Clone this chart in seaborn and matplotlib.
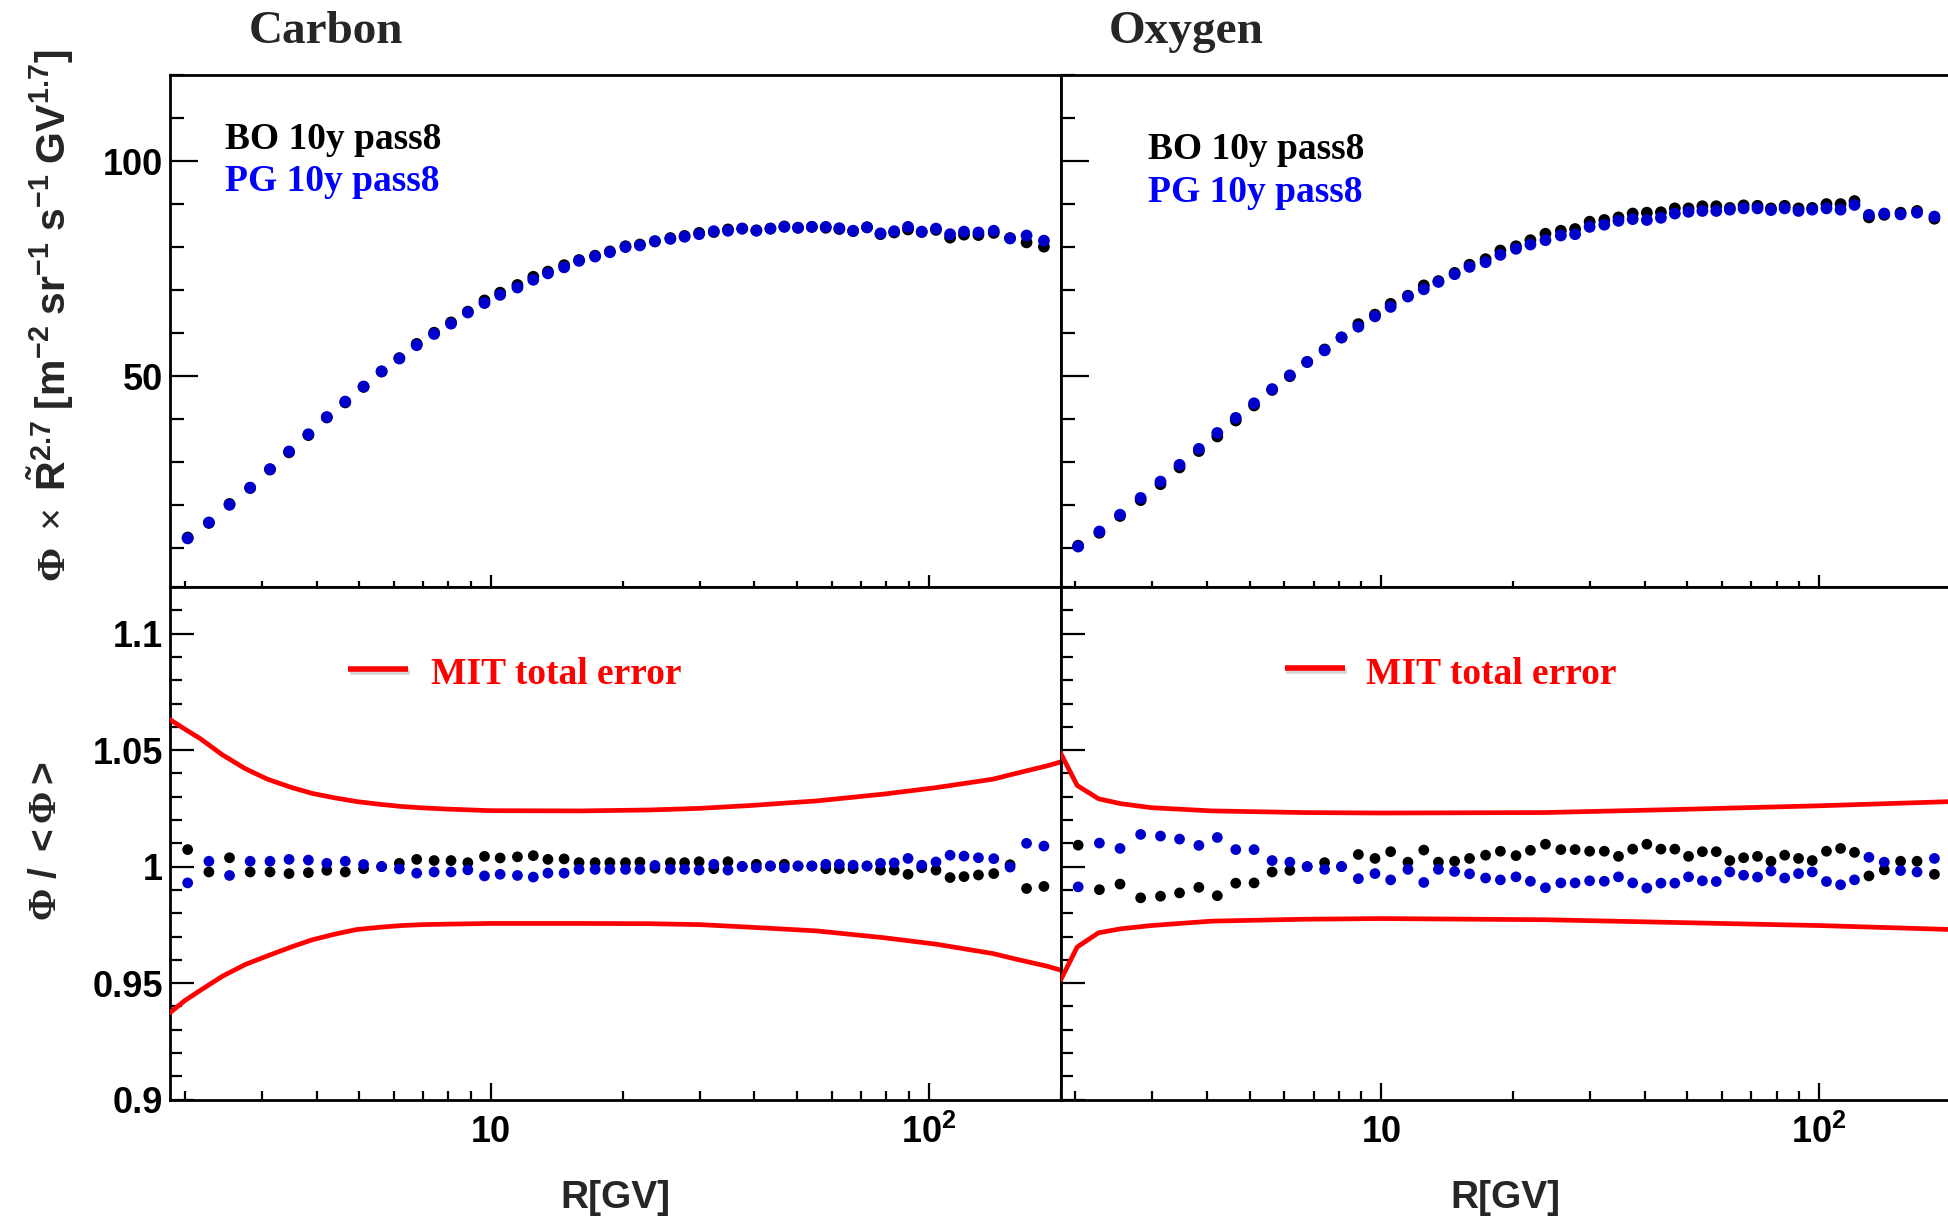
import matplotlib
matplotlib.use('Agg')
import matplotlib.pyplot as plt
import seaborn as sns
import pandas as pd
from matplotlib.ticker import FixedLocator, FixedFormatter, NullFormatter, MultipleLocator, LogLocator

# ---------------- data ----------------
rigidity = [2.03, 2.27, 2.53, 2.82, 3.13, 3.46, 3.83, 4.22, 4.65, 5.12, 5.63, 6.18, 6.77, 7.42,
            8.11, 8.86, 9.67, 10.5, 11.5, 12.5, 13.5, 14.7, 15.9, 17.3, 18.7, 20.3, 21.9, 23.7,
            25.7, 27.7, 29.9, 32.3, 34.8, 37.5, 40.4, 43.5, 46.8, 50.3, 54.1, 58.2, 62.5, 67.2,
            72.3, 77.6, 83.4, 89.7, 96.4, 103.9, 111.9, 120.4, 129.9, 140.8, 153.4, 167.3, 183.3]

carbon_pg = [12.3, 16.0, 20.1, 24.1, 28.4, 32.5, 36.5, 40.5, 44.1, 47.6, 51.1, 54.1, 57.2, 59.8,
             62.2, 64.8, 67.0, 68.9, 70.6, 72.4, 73.9, 75.3, 76.8, 77.8, 78.8, 80.0, 80.4, 81.4,
             81.9, 82.4, 83.0, 83.7, 83.8, 84.3, 83.8, 84.3, 84.7, 84.5, 84.7, 84.7, 84.4, 83.8,
             84.6, 83.2, 83.7, 84.7, 83.6, 84.3, 83.0, 83.6, 83.4, 83.8, 82.0, 82.7, 81.5]
carbon_bo = [12.5, 15.9, 20.3, 24.0, 28.3, 32.3, 36.3, 40.4, 43.9, 47.5, 51.1, 54.2, 57.5, 60.1,
             62.5, 65.0, 67.6, 69.4, 71.2, 73.1, 74.3, 75.8, 77.0, 78.0, 79.0, 80.2, 80.6, 81.3,
             82.1, 82.6, 83.3, 83.5, 84.1, 84.3, 83.9, 84.3, 84.8, 84.5, 84.7, 84.5, 84.2, 83.7,
             84.6, 83.0, 83.4, 84.1, 83.5, 84.0, 82.2, 82.9, 82.8, 83.3, 82.1, 81.1, 80.1]

oxygen_pg = [10.4, 13.9, 17.8, 21.7, 25.5, 29.4, 33.1, 36.8, 40.3, 43.7, 47.0, 50.2, 53.3, 56.0,
             59.0, 61.5, 63.9, 66.1, 68.5, 70.2, 71.9, 73.7, 75.4, 76.5, 78.2, 79.6, 80.6, 81.6,
             82.7, 83.0, 84.7, 85.2, 86.1, 86.5, 86.3, 86.8, 87.8, 88.2, 88.4, 88.4, 88.7, 89.0,
             89.0, 88.6, 89.0, 88.4, 88.7, 89.0, 88.7, 89.8, 87.5, 87.8, 87.6, 88.0, 87.1]
oxygen_bo = [10.6, 13.6, 17.5, 21.2, 24.9, 28.8, 32.6, 36.0, 39.7, 43.2, 46.8, 50.0, 53.3, 56.2,
             59.0, 62.1, 64.3, 66.8, 68.7, 71.1, 72.1, 74.0, 75.9, 77.2, 79.2, 80.2, 81.6, 83.1,
             83.8, 84.2, 85.9, 86.3, 86.9, 87.8, 88.0, 88.1, 89.0, 89.0, 89.5, 89.5, 89.1, 89.7,
             89.6, 89.0, 89.6, 89.0, 89.1, 90.0, 90.0, 90.7, 86.9, 87.5, 88.0, 88.4, 86.6]

carbon_ratio_bo = [1.0073, 0.9977, 1.0038, 0.9977, 0.9977, 0.9970, 0.9974, 0.9984, 0.9977, 0.9991,
                   1.0000, 1.0014, 1.0031, 1.0026, 1.0026, 1.0017, 1.0044, 1.0037, 1.0042, 1.0047,
                   1.0031, 1.0033, 1.0017, 1.0017, 1.0017, 1.0017, 1.0019, 0.9993, 1.0017, 1.0017,
                   1.0021, 0.9991, 1.0021, 1.0001, 1.0010, 1.0002, 1.0010, 1.0002, 1.0002, 0.9991,
                   0.9991, 0.9991, 1.0002, 0.9985, 0.9985, 0.9967, 0.9995, 0.9985, 0.9953, 0.9957,
                   0.9964, 0.9970, 1.0008, 0.9906, 0.9915]
carbon_ratio_pg = [0.9930, 1.0023, 0.9962, 1.0023, 1.0023, 1.0031, 1.0028, 1.0014, 1.0023, 1.0009,
                   1.0000, 0.9990, 0.9972, 0.9977, 0.9977, 0.9986, 0.9960, 0.9967, 0.9962, 0.9955,
                   0.9972, 0.9972, 0.9988, 0.9988, 0.9988, 0.9988, 0.9988, 1.0005, 0.9988, 0.9988,
                   0.9985, 1.0010, 0.9985, 1.0000, 0.9995, 1.0003, 0.9995, 1.0003, 1.0003, 1.0010,
                   1.0010, 1.0006, 1.0003, 1.0014, 1.0016, 1.0035, 1.0006, 1.0020, 1.0049, 1.0045,
                   1.0038, 1.0034, 0.9998, 1.0100, 1.0088]

oxygen_ratio_bo = [1.0092, 0.9901, 0.9925, 0.9866, 0.9873, 0.9887, 0.9911, 0.9875, 0.9929, 0.9930,
                   0.9977, 0.9984, 1.0000, 1.0017, 1.0000, 1.0052, 1.0035, 1.0064, 1.0019, 1.0071,
                   1.0019, 1.0023, 1.0035, 1.0049, 1.0066, 1.0047, 1.0070, 1.0096, 1.0073, 1.0073,
                   1.0066, 1.0066, 1.0044, 1.0075, 1.0096, 1.0075, 1.0075, 1.0044, 1.0064, 1.0064,
                   1.0026, 1.0038, 1.0044, 1.0023, 1.0049, 1.0035, 1.0026, 1.0066, 1.0078, 1.0061,
                   0.9960, 0.9986, 1.0023, 1.0023, 0.9967]
oxygen_ratio_pg = [0.9913, 1.0101, 1.0078, 1.0138, 1.0131, 1.0118, 1.0091, 1.0125, 1.0073, 1.0073,
                   1.0026, 1.0019, 1.0000, 0.9988, 1.0000, 0.9948, 0.9970, 0.9943, 0.9988, 0.9932,
                   0.9988, 0.9979, 0.9969, 0.9951, 0.9943, 0.9956, 0.9937, 0.9909, 0.9930, 0.9930,
                   0.9939, 0.9937, 0.9956, 0.9930, 0.9908, 0.9929, 0.9929, 0.9956, 0.9939, 0.9936,
                   0.9977, 0.9963, 0.9955, 0.9981, 0.9951, 0.9970, 0.9977, 0.9936, 0.9922, 0.9943,
                   1.0040, 1.0019, 0.9983, 0.9977, 1.0035]

carbon_err_R = [1.85, 2.0, 2.17, 2.44, 2.75, 3.09, 3.5, 3.91, 4.4, 4.94, 5.6, 6.25, 7.0, 7.90,
                10.0, 16.0, 23.0, 30.0, 39.0, 55.5, 78.8, 104, 140, 159, 186, 200]
carbon_err_up = [1.0631, 1.0590, 1.0549, 1.0479, 1.0420, 1.0375, 1.0340, 1.0314, 1.0295, 1.0279,
                 1.0267, 1.0258, 1.0252, 1.0247, 1.0240, 1.0239, 1.0243, 1.0250, 1.0262, 1.0282,
                 1.0311, 1.0339, 1.0375, 1.0401, 1.0432, 1.0449]
carbon_err_lo = [0.9373, 0.9425, 0.9469, 0.9530, 0.9580, 0.9617, 0.9655, 0.9686, 0.9710, 0.9730,
                 0.9740, 0.9747, 0.9751, 0.9753, 0.9756, 0.9756, 0.9755, 0.9751, 0.9740, 0.9724,
                 0.9695, 0.9667, 0.9627, 0.9602, 0.9573, 0.9556]

oxygen_err_R = [1.85, 2.02, 2.26, 2.54, 2.98, 4.10, 6.61, 10.0, 23.6, 44.7, 100, 200]
oxygen_err_up = [1.0488, 1.0348, 1.0291, 1.0270, 1.0253, 1.0239, 1.0232, 1.0230, 1.0232, 1.0244,
                 1.0261, 1.0279]
oxygen_err_lo = [0.9512, 0.9655, 0.9716, 0.9733, 0.9747, 0.9766, 0.9774, 0.9777, 0.9772, 0.9761,
                 0.9747, 0.9730]

panel_titles = ['Carbon', 'Oxygen']
series_labels = ['BO 10y pass8', 'PG 10y pass8']
err_label = 'MIT total error'
x_tick_values = [10, 100]
x_tick_labels = ['10', r'$\mathbf{10^{2}}$']
top_y_ticks = [50, 100]
top_y_labels = ['50', '100']
bot_y_ticks = [0.9, 0.95, 1.0, 1.05, 1.1]
bot_y_labels = ['0.9', '0.95', '1', '1.05', '1.1']

# ---------------- style ----------------
sns.set_style('ticks')
plt.rcParams['font.family'] = ['Liberation Sans', 'DejaVu Sans']
plt.rcParams['font.weight'] = 'bold'
plt.rcParams['mathtext.fontset'] = 'custom'
plt.rcParams['mathtext.rm'] = 'Liberation Serif'
plt.rcParams['mathtext.it'] = 'Liberation Serif:italic'
plt.rcParams['mathtext.bf'] = 'Liberation Sans:bold'
plt.rcParams['mathtext.sf'] = 'Liberation Sans'

BLACK = '#000000'
BLUE = '#0000cc'
BLUE_TXT = '#0000ff'
RED = '#ff0000'

W, H = 1949, 1219
fig = plt.figure(figsize=(W / 100, H / 100), dpi=100)

def frac_x(px):
    return px / W

def frac_y(px):
    return 1 - px / H

ax_w = 890.5 / W
left0 = 170 / W
left1 = 1060.5 / W
top_b, top_h = frac_y(587), 512 / H
bot_b, bot_h = frac_y(1099.6), 512.6 / H

axes = {
    ('top', 0): fig.add_axes([left0, top_b, ax_w, top_h]),
    ('top', 1): fig.add_axes([left1, top_b, ax_w, top_h]),
    ('bot', 0): fig.add_axes([left0, bot_b, ax_w, bot_h]),
    ('bot', 1): fig.add_axes([left1, bot_b, ax_w, bot_h]),
}

top_data = [(carbon_bo, carbon_pg), (oxygen_bo, oxygen_pg)]
ratio_data = [(carbon_ratio_bo, carbon_ratio_pg), (oxygen_ratio_bo, oxygen_ratio_pg)]
err_data = [(carbon_err_R, carbon_err_up, carbon_err_lo), (oxygen_err_R, oxygen_err_up, oxygen_err_lo)]

for col in range(2):
    # ---- top panel ----
    ax = axes[('top', col)]
    ax.set_xscale('log')
    bo, pg = top_data[col]
    df = pd.DataFrame({'R': rigidity, 'BO': bo, 'PG': pg})
    sns.scatterplot(data=df, x='R', y='BO', ax=ax, color=BLACK, s=72, edgecolor='none', zorder=3)
    sns.scatterplot(data=df, x='R', y='PG', ax=ax, color=BLUE, s=72, edgecolor='none', zorder=4)
    ax.set_xlim(1.85, 200)
    ax.set_ylim(1.0, 120)
    ax.yaxis.set_major_locator(FixedLocator(top_y_ticks))
    ax.yaxis.set_minor_locator(MultipleLocator(10))
    if col == 0:
        ax.yaxis.set_major_formatter(FixedFormatter(top_y_labels))
    else:
        ax.yaxis.set_major_formatter(NullFormatter())
    ax.xaxis.set_major_locator(FixedLocator(x_tick_values))
    ax.xaxis.set_minor_locator(LogLocator(base=10, subs=range(2, 10), numticks=20))
    ax.xaxis.set_major_formatter(NullFormatter())
    ax.xaxis.set_minor_formatter(NullFormatter())
    ax.tick_params(axis='both', which='both', direction='in', top=False, right=False,
                   width=1.6, colors='black', labelsize=26, pad=5)
    ax.tick_params(axis='y', which='major', length=20)
    ax.tick_params(axis='y', which='minor', length=10)
    ax.tick_params(axis='x', which='major', length=9)
    ax.tick_params(axis='x', which='minor', length=4.5)
    ax.set_xlabel('')
    ax.set_ylabel('')
    for s in ax.spines.values():
        s.set_linewidth(2.0)
        s.set_color('black')
    if col == 1:
        ax.spines['right'].set_visible(False)
    lx = [0.0618, 0.098][col]
    ly = [(0.8564, 0.7734), (0.8363, 0.7525)][col]
    ax.text(lx, ly[0], series_labels[0], transform=ax.transAxes, color=BLACK,
            fontsize=27, fontweight='bold', family='Liberation Serif', va='baseline', ha='left')
    ax.text(lx, ly[1], series_labels[1], transform=ax.transAxes, color=BLUE_TXT,
            fontsize=27, fontweight='bold', family='Liberation Serif', va='baseline', ha='left')

    # ---- ratio panel ----
    ax = axes[('bot', col)]
    ax.set_xscale('log')
    rb, rp = ratio_data[col]
    dfr = pd.DataFrame({'R': rigidity, 'BO': rb, 'PG': rp})
    sns.scatterplot(data=dfr, x='R', y='BO', ax=ax, color=BLACK, s=60, edgecolor='none', zorder=3)
    sns.scatterplot(data=dfr, x='R', y='PG', ax=ax, color=BLUE, s=60, edgecolor='none', zorder=4)
    eR, eu, el = err_data[col]
    dfe = pd.DataFrame({'R': eR, 'up': eu, 'lo': el})
    sns.lineplot(data=dfe, x='R', y='up', ax=ax, color=RED, linewidth=3.4, sort=False,
                 estimator=None, zorder=5, clip_on=True)
    sns.lineplot(data=dfe, x='R', y='lo', ax=ax, color=RED, linewidth=3.4, sort=False,
                 estimator=None, zorder=5, clip_on=True)
    ax.set_xlim(1.85, 200)
    ax.set_ylim(0.9, 1.12)
    ax.yaxis.set_major_locator(FixedLocator(bot_y_ticks))
    ax.yaxis.set_minor_locator(MultipleLocator(0.01))
    if col == 0:
        ax.yaxis.set_major_formatter(FixedFormatter(bot_y_labels))
    else:
        ax.yaxis.set_major_formatter(NullFormatter())
    ax.xaxis.set_major_locator(FixedLocator(x_tick_values))
    ax.xaxis.set_major_formatter(FixedFormatter(x_tick_labels))
    ax.xaxis.set_minor_locator(LogLocator(base=10, subs=range(2, 10), numticks=20))
    ax.xaxis.set_minor_formatter(NullFormatter())
    ax.tick_params(axis='both', which='both', direction='in', top=False, right=False,
                   width=1.6, colors='black', labelsize=26)
    ax.tick_params(axis='y', which='major', length=17, pad=5)
    ax.tick_params(axis='y', which='minor', length=8.5)
    ax.tick_params(axis='x', which='major', length=12, pad=11)
    ax.tick_params(axis='x', which='minor', length=6.5)
    ax.set_xlabel('')
    ax.set_ylabel('')
    for s in ax.spines.values():
        s.set_linewidth(2.0)
        s.set_color('black')
    if col == 1:
        ax.spines['right'].set_visible(False)
    lx0, lx1, tx = [(0.200, 0.267, 0.293), (0.2517, 0.3197, 0.343)][col]
    lyy = [0.8404, 0.8427][col]
    ax.plot([lx0 + 0.002, lx1 + 0.002], [lyy - 0.006, lyy - 0.006], transform=ax.transAxes,
            color='#bbbbbb', linewidth=4, alpha=0.6, solid_capstyle='butt', zorder=5)
    ax.plot([lx0, lx1], [lyy, lyy], transform=ax.transAxes, color=RED, linewidth=4,
            solid_capstyle='butt', zorder=6)
    ax.text(tx, 0.8108, err_label, transform=ax.transAxes, color=RED, fontsize=27,
            fontweight='bold', family='Liberation Serif', va='baseline', ha='left')

# ---- figure texts ----
fig.text(frac_x(326), frac_y(43), panel_titles[0], fontsize=34, fontweight='bold',
         family='Liberation Serif', ha='center', va='baseline')
fig.text(frac_x(1186), frac_y(43), panel_titles[1], fontsize=34, fontweight='bold',
         family='Liberation Serif', ha='center', va='baseline')

fig.text(frac_x(615), frac_y(1198), 'R[GV]', fontsize=28, fontweight='bold', ha='center', va='center')
fig.text(frac_x(1505), frac_y(1198), 'R[GV]', fontsize=28, fontweight='bold', ha='center', va='center')

fig.text(frac_x(50), frac_y(316),
         r'$\mathrm{\Phi\ \times}\ \tilde{\mathbf{R}}^{\mathbf{2.7}}\ \mathbf{[m^{-2}\ sr^{-1}\ s^{-1}\ GV^{1.7}]}$',
         rotation=90, fontsize=29.5, ha='center', va='center')
fig.text(frac_x(46), frac_y(841),
         r'$\mathrm{\Phi}\ \mathbf{/}\ {\mathbf{<}}\mathrm{\Phi}{\mathbf{>}}$',
         rotation=90, fontsize=28, ha='center', va='center')

fig.savefig('out.png', dpi=100)
